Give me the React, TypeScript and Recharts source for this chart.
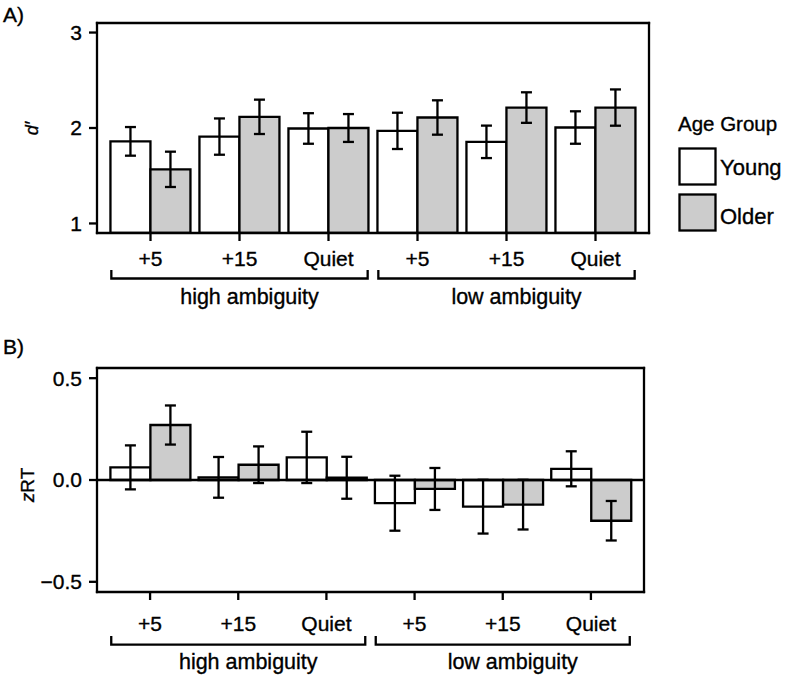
import React from "react";
import { BarChart, Bar, XAxis, YAxis, ErrorBar, ReferenceLine, Legend } from "recharts";

const conditions = ["+5", "+15", "Quiet", "+5", "+15", "Quiet"];
const groups = ["high ambiguity", "low ambiguity"];
const ageGroups = ["Young", "Older"];

// panel A: d'
const dYoung = [1.86, 1.91, 1.995, 1.97, 1.855, 2.005];
const dYoungErr = [0.15, 0.19, 0.16, 0.19, 0.17, 0.17];
const dOlder = [1.567, 2.117, 2.0, 2.11, 2.214, 2.214];
const dOlderErr = [0.185, 0.18, 0.146, 0.18, 0.16, 0.19];
const dTicks = [1, 2, 3];

// panel B: zRT
const rtYoung = [0.062, 0.013, 0.111, -0.114, -0.131, 0.055];
const rtYoungErr = [0.108, 0.1, 0.126, 0.135, 0.132, 0.086];
const rtOlder = [0.27, 0.075, 0.011, -0.044, -0.121, -0.2];
const rtOlderErr = [0.096, 0.09, 0.103, 0.103, 0.122, 0.097];
const rtTicks = [-0.5, 0, 0.5];

const FONT = '"Liberation Sans", Arial, Helvetica, sans-serif';
const W = 787;
const FILLS = ["#ffffff", "#cccccc"];
const LW = 2.3;

const buildRows = (young: number[], youngErr: number[], older: number[], olderErr: number[]) =>
  conditions.map((c, i) => ({
    key: `${groups[Math.floor(i / 3)]} ${c}`,
    young: young[i],
    youngErr: youngErr[i],
    older: older[i],
    olderErr: olderErr[i],
  }));

const dRows = buildRows(dYoung, dYoungErr, dOlder, dOlderErr);
const rtRows = buildRows(rtYoung, rtYoungErr, rtOlder, rtOlderErr);

type TickLayout = { band: number; labelDy: number; capDy: number; bracketDy: number; groupDy: number };

const txt = { fill: "#000", fontFamily: FONT, stroke: "#000", strokeWidth: 0.35 };

const ConditionTick = (props: any) => {
  const { x, y, index, layout } = props;
  const l: TickLayout = layout;
  const base = y - 8;
  const half = l.band * 1.44;
  return (
    <g>
      <text x={x} y={base + l.labelDy} textAnchor="middle" fontSize={21} {...txt}>
        {conditions[index]}
      </text>
      {index % 3 === 1 && (
        <g>
          <path
            d={`M${x - half},${base + l.capDy}V${base + l.bracketDy}H${x + half}V${base + l.capDy}`}
            fill="none"
            stroke="#000"
            strokeWidth={LW}
          />
          <text x={x + 10} y={base + l.groupDy} textAnchor="middle" fontSize={21.5} {...txt}>
            {groups[Math.floor(index / 3)]}
          </text>
        </g>
      )}
    </g>
  );
};

const AgeLegend = (props: any) => {
  const items = [...(props.payload || [])].sort(
    (a: any, b: any) => ageGroups.indexOf(a.value) - ageGroups.indexOf(b.value)
  );
  return (
    <svg width={111} height={135} style={{ display: "block" }}>
      <text x={2} y={31} fontSize={20.5} {...txt}>
        Age Group
      </text>
      {items.map((it: any, i: number) => (
        <g key={it.value}>
          <rect x={3.5} y={48.5 + i * 46} width={36} height={36} fill={it.color} stroke="#000" strokeWidth={LW} />
          <text x={44} y={75 + i * 48.5} fontSize={22} {...txt}>
            {it.value}
          </text>
        </g>
      ))}
    </svg>
  );
};

const border = { stroke: "#000", strokeWidth: LW, strokeLinecap: "square" as const };

type PanelProps = {
  rows: any[];
  height: number;
  top: number;
  right: number;
  xHeight: number;
  domain: [number, number];
  ticks: number[];
  tickLayout: TickLayout;
  yTitle: (vb: any) => React.ReactNode;
  zeroLine?: boolean;
  legend?: boolean;
  format?: (v: number) => string;
};

const Panel = (p: PanelProps) => (
  <BarChart
    width={W}
    height={p.height}
    data={p.rows}
    margin={{ top: p.top - 1, right: p.right - 1, left: 0, bottom: 0 }}
    barGap={0}
    barCategoryGap="5%"
  >
    <XAxis
      dataKey="key"
      height={p.xHeight}
      interval={0}
      padding={{ left: 9, right: 9 }}
      tickSize={8}
      tickMargin={0}
      tickLine={{ stroke: "#000", strokeWidth: LW }}
      axisLine={border}
      tick={(t: any) => <ConditionTick {...t} layout={p.tickLayout} />}
    />
    <XAxis xAxisId="top" orientation="top" dataKey="key" height={1} tick={false} tickLine={false} axisLine={border} />
    <YAxis
      width={97}
      domain={p.domain}
      allowDataOverflow
      ticks={p.ticks}
      tickSize={8}
      tickMargin={7}
      tickLine={{ stroke: "#000", strokeWidth: LW }}
      axisLine={border}
      tick={{ fontSize: 21, ...txt }}
      tickFormatter={p.format}
      label={(lp: any) => p.yTitle(lp.viewBox)}
    />
    <YAxis yAxisId="right" orientation="right" width={1} tick={false} tickLine={false} axisLine={border} />
    {p.zeroLine && <ReferenceLine y={0} stroke="#000" strokeWidth={LW} />}
    <Bar dataKey="young" name={ageGroups[0]} fill={FILLS[0]} stroke="#000" strokeWidth={LW} isAnimationActive={false}>
      <ErrorBar dataKey="youngErr" direction="y" width={5.5} stroke="#000" strokeWidth={LW} />
    </Bar>
    <Bar dataKey="older" name={ageGroups[1]} fill={FILLS[1]} stroke="#000" strokeWidth={LW} isAnimationActive={false}>
      <ErrorBar dataKey="olderErr" direction="y" width={5.5} stroke="#000" strokeWidth={LW} />
    </Bar>
    {p.legend && (
      <Legend
        layout="vertical"
        align="center"
        verticalAlign="middle"
        content={AgeLegend}
        wrapperStyle={{ left: 676, top: 100, width: 111, height: 135 }}
      />
    )}
  </BarChart>
);

const App = () => (
  <div style={{ position: "absolute", left: 0, top: 0, width: W, height: 677, background: "#fff", fontFamily: FONT }}>
    <div style={{ position: "absolute", left: 0, top: 0 }}>
      <Panel
        rows={dRows}
        height={320}
        top={23}
        right={138}
        xHeight={87}
        domain={[0.9, 3.1]}
        ticks={dTicks}
        legend
        tickLayout={{ band: 89, labelDy: 33, capDy: 37, bracketDy: 45.5, groupDy: 71 }}
        yTitle={(vb: any) => (
          <text transform={`translate(38,${vb.y + vb.height / 2}) rotate(-90)`} textAnchor="middle" fontSize={18} {...txt}>
            <tspan fontStyle="italic">d</tspan>
            <tspan dx={1}>′</tspan>
          </text>
        )}
      />
    </div>
    <div style={{ position: "absolute", left: 0, top: 330 }}>
      <Panel
        rows={rtRows}
        height={347}
        top={38}
        right={143}
        xHeight={85}
        domain={[-0.55, 0.55]}
        ticks={rtTicks}
        zeroLine
        format={(v: number) => v.toFixed(1).replace("-", "\u2212")}
        tickLayout={{ band: 88.2, labelDy: 39, capDy: 44, bracketDy: 52.6, groupDy: 76.5 }}
        yTitle={(vb: any) => (
          <text transform={`translate(33.5,${vb.y + vb.height / 2 + 5}) rotate(-90)`} textAnchor="middle" fontSize={19} {...txt}>
            <tspan fontStyle="italic">z</tspan>
            <tspan>RT</tspan>
          </text>
        )}
      />
    </div>
    <svg width={W} height={677} style={{ position: "absolute", left: 0, top: 0, pointerEvents: "none" }}>
      <text x={3} y={22} fontSize={21} {...txt}>
        A)
      </text>
      <text x={3} y={354} fontSize={21} {...txt}>
        B)
      </text>
    </svg>
  </div>
);

export default App;
